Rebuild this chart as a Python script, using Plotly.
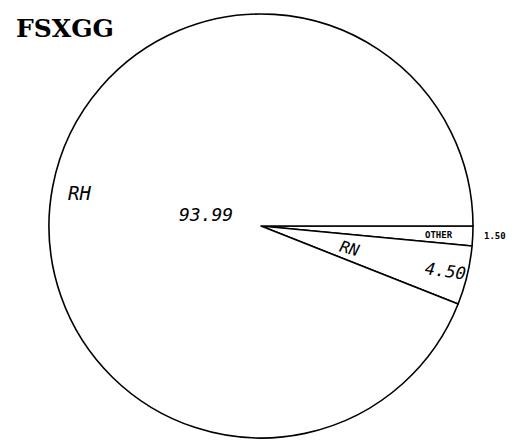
import plotly.graph_objects as go

title_text = "FSXGG"
labels = ["OTHER", "RN", "RH"]
values = [1.50, 4.50, 93.99]
value_labels = ["1.50", "4.50", "93.99"]

W, H = 518, 441

def px(x, y):
    return x / W, 1 - y / H

fig = go.Figure(go.Pie(
    labels=labels,
    values=values,
    sort=False,
    direction="clockwise",
    rotation=90,
    textinfo="none",
    hoverinfo="skip",
    marker=dict(colors=["white"] * 3, line=dict(color="black", width=1.6)),
    domain=dict(x=[49 / W, 473 / W], y=[1 - 439 / H, 1 - 13 / H]),
    showlegend=False,
))

hand = "DejaVu Sans Mono"
ann = []
def add(text, x, y, size, angle=0, family=hand, style="italic", weight="normal"):
    ax, ay = px(x, y)
    ann.append(dict(text=text, x=ax, y=ay, xref="paper", yref="paper",
                    showarrow=False, textangle=angle,
                    font=dict(family=family, size=size, color="black", style=style, weight=weight),
                    xanchor="center", yanchor="middle"))

add(labels[2], 79, 193, 19)
add(value_labels[2], 206, 214, 18)
add(labels[1], 350, 248, 16, angle=15)
add(value_labels[1], 446, 271, 17, angle=8)
add(labels[0], 439, 235, 9, style="normal", weight="bold")
add(value_labels[0], 495, 236, 9, style="normal", weight="bold")

tx, ty = px(14, 28)
ann.append(dict(text=title_text, x=tx, y=ty, xref="paper", yref="paper", showarrow=False,
                xanchor="left", yanchor="middle",
                font=dict(family="DejaVu Serif", size=25, color="black", weight="bold")))

fig.update_layout(
    width=W, height=H,
    margin=dict(l=0, r=0, t=0, b=0),
    paper_bgcolor="white", plot_bgcolor="white",
    annotations=ann,
)

fig.write_html("out.html", config={"displayModeBar": False},
               post_script="document.body.style.margin='0';document.body.style.overflow='hidden';")
